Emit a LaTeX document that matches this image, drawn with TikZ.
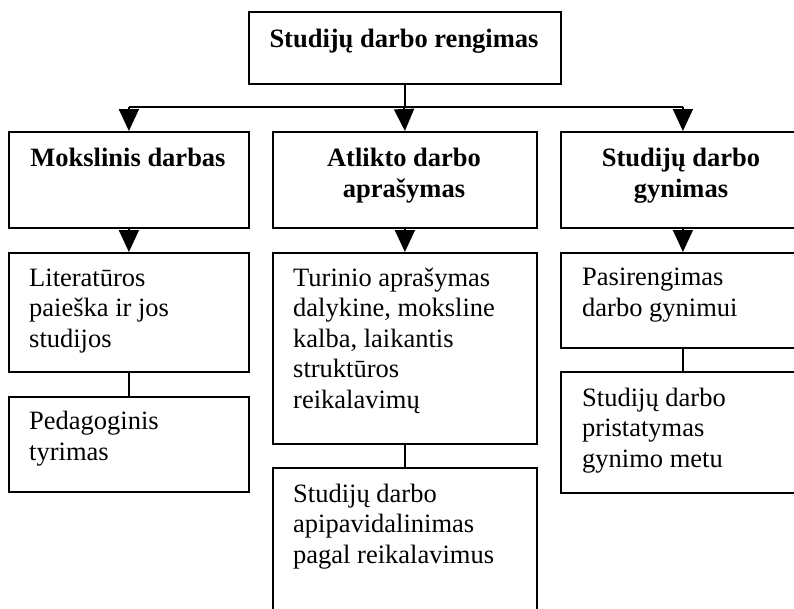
\documentclass[tikz,border=0pt]{standalone}
\usepackage{fontspec}
\setmainfont{Liberation Serif}
\usetikzlibrary{arrows.meta}

\begin{document}
\begin{tikzpicture}[x=1pt,y=-1pt,
 every node/.style={font=\fontsize{26.5}{30.5}\selectfont},
 box/.style={draw,line width=1.8pt,anchor=north west,inner sep=0pt},
 head/.style={font=\fontsize{26.5}{31}\selectfont\bfseries,align=center,anchor=base,inner sep=0pt},
 txt/.style={align=left,anchor=base west,inner sep=0pt},
 link/.style={line width=1.8pt},
 arr/.style={link,-{Triangle[width=20pt,length=22pt]}}]
\useasboundingbox (0,0) rectangle (794,608);
\clip (0,0) rectangle (794,608);
% top (text nodes sit on the baseline of their last line)
\node[box,minimum width=312pt,minimum height=72pt] (ren) at (248,11) {};
\node[head] (renT) at (404,47) {Studijų darbo rengimas};
% first level
\node[box,minimum width=240pt,minimum height=96pt] (mok) at (8,131) {};
\node[box,minimum width=264pt,minimum height=96pt] (apr) at (272,131) {};
\node[box,minimum width=244pt,minimum height=96pt] (gyn) at (560,131) {};
\node[head] (mokT) at (128,166) {Mokslinis darbas};
\node[head] (aprT) at (404,197) {Atlikto darbo\\aprašymas};
\node[head] (gynT) at (681,197) {Studijų darbo\\gynimas};
% second level
\node[box,minimum width=240pt,minimum height=119pt] (lit) at (8,252) {};
\node[box,minimum width=264pt,minimum height=191pt] (tur) at (272,252) {};
\node[box,minimum width=244pt,minimum height=95pt] (pas) at (560,252) {};
\node[txt] (litT) at (29,347) {Literatūros\\paieška ir jos\\studijos};
\node[txt] (turT) at (293,408) {Turinio aprašymas\\dalykine, moksline\\kalba, laikantis\\struktūros\\reikalavimų};
\node[txt] (pasT) at (582,316) {Pasirengimas\\darbo gynimui};
% third level
\node[box,minimum width=240pt,minimum height=95pt] (ped) at (8,396) {};
\node[box,minimum width=264pt,minimum height=200pt] (api) at (272,467) {};
\node[box,minimum width=244pt,minimum height=121pt] (pri) at (560,371) {};
\node[txt] (pedT) at (29,460) {Pedagoginis\\tyrimas};
\node[txt] (apiT) at (293,563) {Studijų darbo\\apipavidalinimas\\pagal reikalavimus};
\node[txt] (priT) at (582,467) {Studijų darbo\\pristatymas\\gynimo metu};
% connectors
\coordinate (bus) at (404,107);
\draw[link] (ren.south) -- (ren.south |- bus);
\draw[link] (mok.north |- bus) -- (gyn.north |- bus);
\draw[arr] (mok.north |- bus) -- (mok.north);
\draw[arr] (bus) -- (apr.north);
\draw[arr] (gyn.north |- bus) -- (gyn.north);
\draw[arr] (mok) -- (lit);
\draw[arr] (apr) -- (tur);
\draw[arr] (gyn) -- (pas);
\draw[link] (lit) -- (ped) (tur) -- (api) (pas) -- (pri);
\end{tikzpicture}
\end{document}
